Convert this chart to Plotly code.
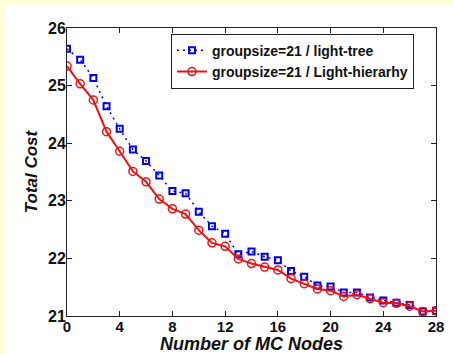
import plotly.graph_objects as go

nodes = list(range(0, 29))
light_tree = [25.64, 25.45, 25.13, 24.64, 24.25, 23.89, 23.69, 23.44, 23.17, 23.13,
              22.81, 22.56, 22.43, 22.07, 22.12, 22.03, 21.97, 21.78, 21.68, 21.53,
              21.51, 21.41, 21.41, 21.32, 21.27, 21.23, 21.19, 21.08, 21.09]
light_hier = [25.34, 25.03, 24.75, 24.20, 23.86, 23.51, 23.33, 23.03, 22.86, 22.77,
              22.49, 22.27, 22.21, 21.99, 21.91, 21.85, 21.80, 21.65, 21.56, 21.47,
              21.44, 21.34, 21.37, 21.30, 21.23, 21.22, 21.17, 21.08, 21.09]
x_ticks = [0, 4, 8, 12, 16, 20, 24, 28]
y_ticks = [21, 22, 23, 24, 25, 26]

fig = go.Figure()
fig.add_trace(go.Scatter(
    x=nodes, y=light_tree, mode="lines+markers",
    name="groupsize=21 / light-tree",
    line=dict(color="#0000F0", width=1.5, dash="2px,4px"),
    marker=dict(symbol="square-open", size=6, color="#0000F0", line=dict(width=2)),
))
fig.add_trace(go.Scatter(
    x=nodes, y=light_hier, mode="lines+markers",
    name="groupsize=21 / Light-hierarhy",
    line=dict(color="#EE1111", width=2),
    marker=dict(symbol="circle-open", size=8, color="#EE1111", line=dict(width=1.5)),
))

axis_common = dict(
    showgrid=False, zeroline=False, showline=True, linecolor="#222", linewidth=1,
    mirror="ticks", ticks="inside", ticklen=5, tickcolor="#222", automargin=False,
)
tick_font = dict(family="Liberation Sans, Arial", size=16, color="#111", weight="bold")
fig.update_xaxes(range=[0, 28], tickvals=x_ticks, ticklabelstandoff=-3, **axis_common,
                 tickfont=dict(tick_font, size=15),
                 title=dict(text="<b><i>Number of MC Nodes</i></b>", standoff=4,
                            font=dict(family="Liberation Sans, Arial", size=18, color="#111")))
fig.update_yaxes(range=[21, 26], tickvals=y_ticks, ticklabelstandoff=-3, **axis_common,
                 tickfont=tick_font,
                 title=dict(text="<b><i>Total Cost</i></b>", standoff=6,
                            font=dict(family="Liberation Sans, Arial", size=17, color="#111")))

fig.update_layout(
    width=454, height=354,
    margin=dict(l=67, r=18, t=28, b=38),
    paper_bgcolor="white", plot_bgcolor="white",
    showlegend=True,
    legend=dict(x=0.611, y=0.98, xanchor="center", yanchor="top",
                bgcolor="white", bordercolor="#222", borderwidth=1,
                font=dict(family="Liberation Sans, Arial", size=14, color="#111", weight="bold"),
                tracegroupgap=0, itemwidth=30),
    shapes=[
        dict(type="rect", xref="paper", yref="paper", x0=-0.2, x1=-0.165,
             y0=-0.2, y1=1.2, fillcolor="#FFFFDC", line=dict(width=0), layer="below"),
        dict(type="rect", xref="paper", yref="paper", x0=-0.2, x1=1.06,
             y0=1.08, y1=1.2, fillcolor="#FFFFDC", line=dict(width=0), layer="below"),
    ],
)

fig.write_html("out.html", config={"displayModeBar": False},
               post_script="document.body.style.margin='0';document.body.style.overflow='hidden';")
